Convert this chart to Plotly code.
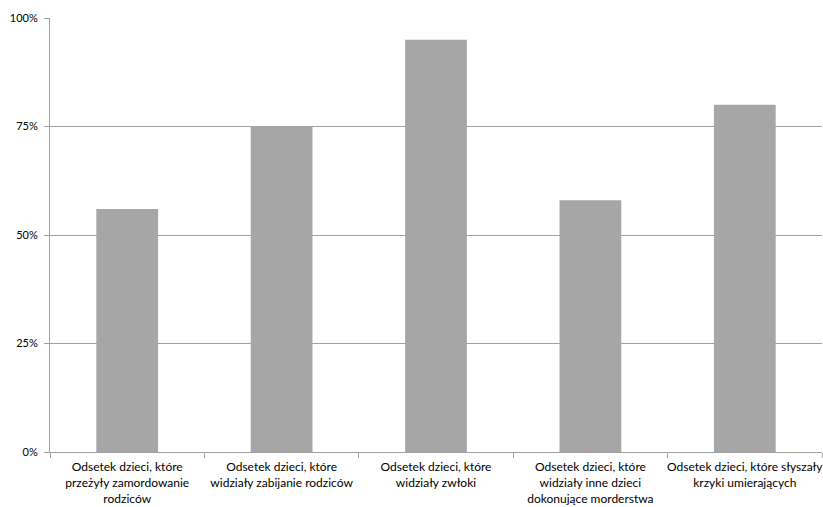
import plotly.graph_objects as go

categories = [
    "Odsetek dzieci, które<br>przeżyły zamordowanie<br>rodziców",
    "Odsetek dzieci, które<br>widziały zabijanie rodziców",
    "Odsetek dzieci, które<br>widziały zwłoki",
    "Odsetek dzieci, które<br>widziały inne dzieci<br>dokonujące morderstwa",
    "Odsetek dzieci, które słyszały<br>krzyki umierających",
]
values = [56, 75, 95, 58, 80]
y_ticks = [0, 25, 50, 75, 100]
y_tick_labels = ["0%", "25%", "50%", "75%", "100%"]

font_family = "Lato, 'Open Sans', sans-serif"
grid_color = "#a0a0a0"

fig = go.Figure(
    go.Bar(
        x=categories,
        y=values,
        marker=dict(color="#a6a6a6", line=dict(width=0)),
        width=0.4,
    )
)

fig.update_layout(
    width=823,
    height=507,
    margin=dict(l=50, r=1, t=18, b=55),
    paper_bgcolor="white",
    plot_bgcolor="white",
    showlegend=False,
    font=dict(family=font_family, size=12, color="#000000"),
)

fig.update_xaxes(
    showline=True,
    linecolor=grid_color,
    linewidth=1,
    ticks="outside",
    tickson="boundaries",
    ticklen=5,
    tickcolor=grid_color,
    tickangle=0,
    ticklabelstandoff=4,
    tickfont=dict(size=12),
    showgrid=False,
    automargin=False,
)

fig.update_yaxes(
    range=[0, 100],
    tickmode="array",
    tickvals=y_ticks,
    ticktext=y_tick_labels,
    showline=True,
    linecolor=grid_color,
    linewidth=1,
    ticks="outside",
    ticklen=5,
    tickcolor=grid_color,
    ticklabelstandoff=4,
    showgrid=True,
    gridcolor=grid_color,
    gridwidth=1,
    zeroline=False,
    tickfont=dict(size=11),
    automargin=False,
)

fig.write_html("out.html")
